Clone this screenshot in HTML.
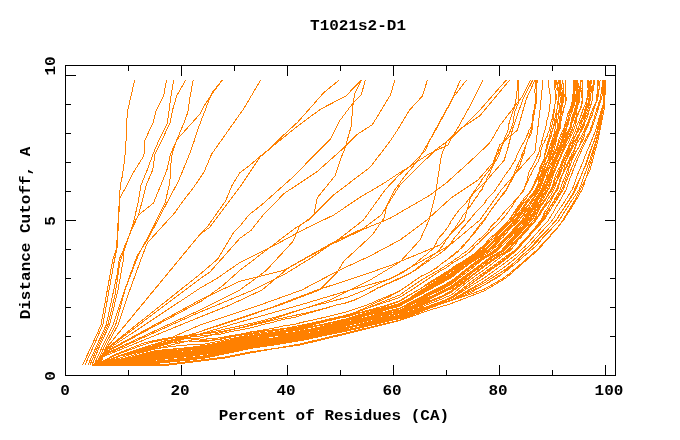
<!DOCTYPE html>
<html><head><meta charset="utf-8"><style>
html,body{margin:0;padding:0;background:#fff;width:680px;height:440px;overflow:hidden}
svg{display:block}
text{font-family:"Liberation Mono",monospace;font-weight:bold;fill:#000}
</style></head><body>
<svg width="680" height="440" viewBox="0 0 680 440">
<rect width="680" height="440" fill="#fff"/>
<g fill="none" stroke="#ff8000" stroke-width="1" shape-rendering="crispEdges">
<polyline points="134.7,80.0 131.8,92.7 128.0,109.0 126.6,122.3 126.2,138.0 125.5,148.0 124.7,159.0 121.8,179.0 120.3,185.0 119.2,203.0 117.8,226.6 117.1,247.3 114.1,262.0 102.8,325 94,345 85,365"/>
<polyline points="166.5,80.0 163.5,96.4 156.1,110.5 153.2,122.3 145.0,140.0 143.9,155.7 132.8,173.4 127.0,185.3 119.5,198.6 118.5,226.0 116.0,250.0 112.7,260.0 101.0,325 92,345 82.6,365"/>
<polyline points="173.6,80.0 170.2,101.6 168.7,113.4 167.2,123.7 159.0,140.0 153.5,152.8 147.6,169.0 141.0,185.3 138.0,203.0 135.6,213.3 133.3,223.6 126.0,244.3 119.3,259.0 117.0,275.0 106.2,325 97,345 88,365"/>
<polyline points="185.7,80.0 176.8,95.7 172.4,110.5 170.2,122.3 162.0,140.0 155.0,154.2 152.8,169.8 146.1,185.3 141.7,203.0 138.5,214.8 131.1,231.0 123.7,248.7 123.0,262.0 118.0,290.0 109.6,325 100,345 92,365"/>
<polyline points="193.2,80.0 190.0,97.2 187.9,112.0 184.2,122.3 176.8,140.0 170.5,154.2 166.8,170.5 153.5,203.0 138.5,215.0 133.0,225.0 126.0,245.0 120.0,262.0 115.0,295.0 107.9,325 98.5,345 90,365"/>
<polyline points="222.3,80.0 214.4,90.5 203.8,106.4 200.0,114.0 177.0,139.5 172.7,151.3 171.2,160.2 169.8,182.3 165.1,203.0 148.9,235.4 140.0,251.7 135.6,262.0 125.0,290.0 115.6,325 105,345 96,365"/>
<polyline points="222.3,80.0 211.7,93.2 198.5,127.6 194.5,140.0 190.6,151.4 178.6,180.8 166.8,203.0 147.4,240.0 137.0,256.0 134.8,262.0 124.0,292.0 113.0,325 103,345 94,365"/>
<polyline points="260.7,80.0 243.5,109.0 211.7,154.0 203.8,172.5 193.2,187.9 181.6,203.0 175.0,212.6 170.0,218.0 147.4,242.8 140.0,262.0 128.0,295.0 118.0,325 107,345 98,365"/>
<polyline points="339.3,80.0 323.8,92.6 315.0,102.6 297.4,122.4 284.1,134.6 269.8,148.9 259.9,157.1 248.8,173.7 240.0,186.9 209.7,227.3 200.0,234.31008403361346 107.0,347.0 100.0,365"/>
<polyline points="361.3,80.0 345.9,96.0 320.5,109.2 295.2,128.0 270.9,147.8 262.0,154.9 248.8,166.0 240.0,172.6 232.2,185.0 225.6,200.9 207.0,227.3 200.0,234.36666666666667 106.22222222222223,348.22222222222223 99.22222222222223,365"/>
<polyline points="361.3,80.0 354.7,93.8 352.5,108.1 351.4,125.7 344.8,148.9 342.6,153.8 334.9,175.9 317.2,197.9 313.9,215.0 299.6,226.0 292.9,241.5 266.5,270.2 240.0,290.0 200.0,310.0 200.0,310.0 101.55555555555556,355.55555555555554 94.55555555555556,365"/>
<polyline points="365.3,80.0 361.3,94.9 352.5,103.7 339.3,121.3 330.4,139.0 320.5,148.9 293.0,177.0 262.0,204.6 248.8,215.0 240.0,226.0 233.5,232.6 217.6,259.1 200.0,274.22648648648646 105.44444444444444,349.44444444444446 98.44444444444444,365"/>
<polyline points="394.9,80.0 390.5,94.9 372.4,124.6 356.9,134.6 342.6,148.9 317.2,171.5 284.1,193.5 263.2,215.0 251.0,230.4 240.0,238.2 209.7,272.3 200.0,278.77481108312344 104.66666666666667,350.6666666666667 97.66666666666667,365"/>
<polyline points="427.4,80.0 422.5,96.0 409.3,110.3 398.2,129.0 390.0,141.2 383.4,150.0 370.2,167.1 332.7,195.7 308.4,220.0 295.2,228.2 240.0,270.2 222.9,285.5 201.7,300.9 200.0,301.6786570743405 102.33333333333333,354.3333333333333 95.33333333333333,365"/>
<polyline points="460.4,80.0 451.2,101.5 435.7,130.2 426.9,145.0 418.1,160.4 404.9,175.9 393.8,191.3 387.0,205.0 384.0,218.0 372.4,234.9 343.7,261.3 337.1,272.4 319.4,290.0 280.0,305.0 230.0,322.0 200.0,331.6 150,347.8 120,356 104,362 96,365"/>
<polyline points="466.6,80.0 453.4,97.1 442.4,116.9 429.1,141.2 425.8,150.0 411.5,164.9 398.2,175.9 385.0,190.0 363.5,220.0 341.5,237.1 312.8,256.9 284.1,274.6 253.2,290.0 210.0,308.0 200.0,312.0 100.77777777777777,356.77777777777777 93.77777777777777,365"/>
<polyline points="483.2,80.0 468.8,108.1 457.8,127.9 451.2,139.0 447.9,145.0 429.1,153.8 415.9,162.6 398.2,173.7 385.0,182.5 359.1,197.9 333.8,215.0 306.2,228.2 277.5,243.7 240.0,262.4 217.6,278.0 200.0,288.2028985507246 103.88888888888889,351.8888888888889 96.88888888888889,365"/>
<polyline points="509.6,80.0 479.9,115.8 460.0,129.0 446.8,141.2 441.3,156.0 437.9,178.1 435.7,193.5 429.1,220.0 420.0,240.0 400.0,262.0 370.0,280.0 330.0,300.0 270.0,320.0 200.0,338.0 200.0,338.0 150,350.2 120,356 104,362 96,365"/>
<polyline points="506.3,80.0 477.7,112.5 455.6,134.6 435.7,150.0 420.0,165.0 400.0,185.0 381.2,215.0 363.5,228.2 332.7,242.6 284.1,270.2 240.0,281.2 200.0,300.0 200.0,300.0 103.11111111111111,353.1111111111111 96.11111111111111,365"/>
<polyline points="530.6,80.0 521.8,97.1 499.7,125.7 490.9,141.2 487.6,145.0 468.8,162.6 446.8,182.5 429.1,195.7 390.0,218.3 363.5,229.3 328.2,245.9 288.5,267.9 262.0,290.0 230.0,305.0 200.0,317.0 100.0,358.0 93.0,365"/>
<polyline points="535.0,80.0 526.2,99.3 517.4,130.2 499.7,145.0 493.1,162.6 477.7,180.3 451.2,197.9 426.9,220.0 400.0,240.0 370.0,256.0 339.3,270.2 301.8,290.0 260.0,305.0 200.0,325.0 200.0,325.0 150,347.0 120,356 104,362 96,365"/>
<polyline points="532.8,80.0 522.9,99.3 512.9,127.9 507.4,150.0 504.1,160.4 488.7,178.1 471.0,195.7 464.4,220.0 440.0,245.0 390.0,265.7 354.7,277.9 317.2,290.0 270.0,308.0 210.0,328.0 200.0,331.6666666666667 150,348.6 120,356 104,362 96,365"/>
<polyline points="543.0,80.0 540.0,110.0 535.0,151.6 517.4,171.5 501.9,189.1 479.9,220.0 450.0,245.0 390.0,279.0 350.3,290.0 300.0,305.0 240.0,322.0 200.0,334.0 150,349.4 120,356 104,362 96,365"/>
<polyline points="92.0,365.5 106.2,359.7 112.9,355.4 123.5,351.2 134.1,346.9 144.9,342.6 165.1,338.4 199.9,334.1 220.4,330.1 230.9,327.8 241.5,325.6 252.0,323.2 262.5,320.6 273.1,317.7 283.6,314.8 294.1,311.5 304.7,308.4 315.2,305.4 325.7,303.0 336.2,300.1 346.8,297.4 357.0,293.3 364.0,290.5 370.2,287.7 376.1,284.9 382.2,282.1 388.7,279.3 394.8,276.5 400.9,273.7 405.3,270.9 409.5,268.1 413.2,265.3 416.5,262.5 419.7,259.7 423.1,256.9 427.0,254.1 430.0,251.3 433.0,248.5 434.6,245.6 436.4,242.8 437.5,240.0 439.5,237.2 442.1,234.4 444.5,231.6 446.5,228.8 448.7,226.0 450.1,223.2 451.5,220.4 453.6,217.6 455.6,214.8 457.7,212.0 459.9,209.2 462.8,206.4 465.4,203.6 467.5,200.8 469.7,198.0 472.4,195.2 473.5,192.3 475.8,189.5 477.3,186.7 479.6,183.9 481.2,181.1 482.7,178.3 485.0,175.5 487.1,172.7 489.7,169.9 491.3,167.1 493.0,164.3 494.7,161.5 495.6,158.7 496.5,155.9 498.2,153.1 499.1,150.3 500.7,147.5 502.5,144.7 504.1,141.9 505.7,139.0 507.5,136.2 509.3,133.4 510.3,130.6 511.3,127.8 512.4,125.0 513.4,122.2 513.4,119.4 514.0,116.6 514.1,113.8 514.9,111.0 516.3,108.2 517.2,105.4 518.6,102.6 518.3,99.8 518.5,97.0 518.7,94.2 518.2,91.4 518.1,88.6 518.3,85.8 518.6,82.9 518.8,80.1"/>
<polyline points="92.0,365.5 108.0,360.1 119.8,355.4 132.5,351.2 145.3,346.9 159.2,342.6 178.3,338.4 204.4,335.5 220.4,334.2 230.9,331.6 241.5,329.7 252.0,327.6 262.5,324.7 273.1,322.2 283.6,319.2 294.1,317.5 304.7,314.3 315.2,311.2 325.7,308.3 336.2,305.0 346.8,302.6 357.3,298.7 367.8,293.7 378.4,287.9 385.2,284.9 391.8,282.1 398.2,279.3 404.4,276.5 409.6,273.7 413.7,270.9 417.1,268.1 420.6,265.3 424.4,262.5 428.1,259.7 431.1,256.9 434.3,254.1 438.0,251.3 440.2,248.5 442.8,245.6 444.5,242.8 446.1,240.0 448.2,237.2 450.1,234.4 451.8,231.6 454.4,228.8 456.1,226.0 458.1,223.2 459.9,220.4 461.8,217.6 463.3,214.8 465.9,212.0 467.6,209.2 470.0,206.4 471.9,203.6 473.9,200.8 475.7,198.0 478.0,195.2 479.4,192.3 482.0,189.5 482.9,186.7 484.4,183.9 486.3,181.1 487.0,178.3 488.4,175.5 490.1,172.7 490.9,169.9 492.5,167.1 493.8,164.3 495.3,161.5 497.4,158.7 498.6,155.9 499.7,153.1 500.7,150.3 501.3,147.5 502.2,144.7 503.3,141.9 504.5,139.0 505.3,136.2 506.9,133.4 507.9,130.6 508.3,127.8 508.6,125.0 509.4,122.2 510.1,119.4 511.3,116.6 512.1,113.8 513.0,111.0 514.3,108.2 514.7,105.4 515.5,102.6 515.9,99.8 516.4,97.0 516.3,94.2 517.0,91.4 517.3,88.6 517.1,85.8 517.5,82.9 517.4,80.1"/>
<polyline points="92.0,365.5 106.8,359.7 114.8,355.4 126.2,351.2 137.7,346.9 149.9,342.6 170.0,338.4 202.2,334.1 220.4,331.7 230.9,329.6 241.5,327.8 252.0,325.3 262.5,322.8 273.1,320.2 283.6,317.8 294.1,315.5 304.7,313.3 315.2,310.7 325.7,308.1 336.2,305.0 346.8,302.9 357.3,299.0 367.8,293.5 378.1,287.7 384.4,284.9 391.0,282.1 396.9,279.3 403.4,276.5 409.1,273.7 414.2,270.9 418.4,268.1 422.2,265.3 426.5,262.5 430.2,259.7 434.9,256.9 439.0,254.1 442.8,251.3 446.3,248.5 449.1,245.6 451.3,242.8 452.9,240.0 455.1,237.2 457.6,234.4 459.8,231.6 461.8,228.8 464.5,226.0 466.7,223.2 469.1,220.4 471.6,217.6 473.6,214.8 476.2,212.0 478.9,209.2 481.4,206.4 484.4,203.6 485.9,200.8 487.8,198.0 490.9,195.2 494.0,192.3 495.6,189.5 497.4,186.7 499.4,183.9 501.2,181.1 503.0,178.3 504.9,175.5 506.8,172.7 509.0,169.9 511.0,167.1 512.5,164.3 514.6,161.5 515.9,158.7 516.7,155.9 518.0,153.1 519.4,150.3 520.7,147.5 522.2,144.7 524.2,141.9 525.4,139.0 526.7,136.2 528.1,133.4 528.8,130.6 530.8,127.8 531.8,125.0 532.1,122.2 533.1,119.4 533.6,116.6 534.2,113.8 534.6,111.0 535.2,108.2 535.5,105.4 535.6,102.6 535.9,99.8 536.3,97.0 536.2,94.2 536.4,91.4 536.1,88.6 536.3,85.8 536.9,82.9 538.0,80.1"/>
<polyline points="92.0,365.5 108.0,360.7 122.0,355.4 135.9,351.2 150.1,346.9 165.8,342.6 185.5,338.4 204.4,340.6 220.4,339.3 230.9,337.0 241.5,335.1 252.0,333.2 262.5,331.4 273.1,329.9 283.6,328.6 294.1,326.6 304.7,324.6 315.2,322.5 325.7,319.8 336.2,317.5 346.8,315.2 357.3,311.6 367.8,306.5 378.4,301.5 388.9,296.8 399.4,291.4 410.0,283.8 420.5,276.7 426.7,273.7 431.7,270.9 436.0,268.1 439.7,265.3 443.2,262.5 447.2,259.7 450.6,256.9 453.8,254.1 457.5,251.3 460.9,248.5 464.1,245.6 465.6,242.8 468.1,240.0 470.5,237.2 473.1,234.4 475.8,231.6 477.9,228.8 480.0,226.0 482.2,223.2 484.6,220.4 486.0,217.6 487.9,214.8 489.5,212.0 491.6,209.2 493.8,206.4 495.8,203.6 498.2,200.8 500.2,198.0 502.9,195.2 504.8,192.3 506.9,189.5 508.1,186.7 509.5,183.9 511.2,181.1 512.6,178.3 513.9,175.5 515.6,172.7 517.5,169.9 518.7,167.1 520.3,164.3 521.0,161.5 522.3,158.7 522.8,155.9 524.2,153.1 524.5,150.3 525.5,147.5 526.1,144.7 527.2,141.9 528.0,139.0 530.0,136.2 531.1,133.4 531.8,130.6 532.6,127.8 532.8,125.0 532.7,122.2 533.4,119.4 533.2,116.6 533.8,113.8 534.3,111.0 535.3,108.2 535.6,105.4 536.5,102.6 536.9,99.8 536.8,97.0 536.7,94.2 536.6,91.4 536.6,88.6 536.7,85.8 535.9,82.9 536.2,80.1"/>
<polyline points="92.0,365.5 108.0,361.7 124.1,356.6 140.0,351.2 155.2,346.9 172.1,342.6 188.3,341.0 204.4,341.9 220.4,339.0 230.9,336.5 241.5,334.2 252.0,331.9 262.5,330.1 273.1,328.3 283.6,325.9 294.1,324.4 304.7,321.7 315.2,319.5 325.7,317.0 336.2,314.4 346.8,311.9 357.3,308.2 367.8,304.7 378.4,300.0 388.9,295.7 399.4,291.0 410.0,284.0 420.5,276.5 426.4,273.7 431.9,270.9 436.4,268.1 439.5,265.3 443.4,262.5 447.3,259.7 451.2,256.9 455.1,254.1 458.2,251.3 460.4,248.5 462.9,245.6 466.2,242.8 468.4,240.0 470.9,237.2 472.8,234.4 474.6,231.6 476.8,228.8 478.8,226.0 480.7,223.2 483.4,220.4 485.9,217.6 487.9,214.8 489.8,212.0 491.5,209.2 493.6,206.4 495.8,203.6 497.9,200.8 499.9,198.0 501.6,195.2 504.2,192.3 506.6,189.5 507.6,186.7 509.2,183.9 510.6,181.1 511.8,178.3 513.3,175.5 514.6,172.7 515.5,169.9 516.7,167.1 518.1,164.3 519.3,161.5 520.8,158.7 521.5,155.9 522.6,153.1 524.1,150.3 524.7,147.5 526.1,144.7 527.2,141.9 528.1,139.0 529.1,136.2 530.0,133.4 531.0,130.6 531.3,127.8 532.2,125.0 532.1,122.2 532.8,119.4 532.7,116.6 533.1,113.8 533.9,111.0 534.2,108.2 534.8,105.4 535.2,102.6 536.1,99.8 535.9,97.0 535.2,94.2 534.7,91.4 535.1,88.6 535.3,85.8 535.5,82.9 535.9,80.1"/>
<polyline points="92.0,365.5 108.0,360.5 121.3,355.4 134.9,351.2 148.7,346.9 164.3,342.6 183.9,338.4 204.4,339.2 220.4,337.8 230.9,335.7 241.5,334.0 252.0,331.6 262.5,330.9 273.1,330.0 283.6,328.6 294.1,326.5 304.7,324.6 315.2,322.3 325.7,319.9 336.2,317.7 346.8,315.6 357.3,312.1 367.8,308.0 378.4,303.6 388.9,299.3 399.4,295.2 410.0,287.7 420.5,280.7 431.0,274.4 437.3,270.9 442.1,268.1 446.2,265.3 450.8,262.5 454.4,259.7 458.9,256.9 462.0,254.1 466.6,251.3 469.6,248.5 472.8,245.6 475.4,242.8 478.3,240.0 482.0,237.2 484.4,234.4 487.6,231.6 489.6,228.8 491.4,226.0 494.5,223.2 497.4,220.4 499.7,217.6 502.1,214.8 504.3,212.0 506.8,209.2 509.5,206.4 512.3,203.6 514.7,200.8 517.4,198.0 520.0,195.2 522.6,192.3 524.6,189.5 525.1,186.7 526.5,183.9 527.9,181.1 528.7,178.3 530.5,175.5 531.9,172.7 532.9,169.9 534.6,167.1 536.4,164.3 538.2,161.5 539.0,158.7 540.3,155.9 541.0,153.1 540.9,150.3 541.8,147.5 542.7,144.7 544.5,141.9 545.6,139.0 547.2,136.2 548.0,133.4 549.3,130.6 549.6,127.8 550.7,125.0 550.9,122.2 552.1,119.4 552.7,116.6 553.1,113.8 553.3,111.0 554.3,108.2 554.6,105.4 555.3,102.6 555.7,99.8 555.7,97.0 555.5,94.2 555.2,91.4 554.7,88.6 554.1,85.8 554.1,82.9 554.0,80.1"/>
<polyline points="92.0,365.5 108.0,362.2 124.1,358.2 140.2,353.0 156.2,348.7 172.2,346.4 188.3,344.9 204.4,344.2 220.4,340.9 230.9,338.6 241.5,336.6 252.0,334.1 262.5,332.7 273.1,331.0 283.6,329.1 294.1,327.8 304.7,325.4 315.2,323.2 325.7,320.9 336.2,318.0 346.8,314.9 357.3,311.7 367.8,308.0 378.4,304.5 388.9,301.2 399.4,297.6 410.0,290.9 420.5,284.1 431.0,277.1 440.1,270.9 445.8,268.1 449.4,265.3 453.0,262.5 458.1,259.7 462.6,256.9 467.0,254.1 470.3,251.3 473.0,248.5 475.6,245.6 479.0,242.8 481.5,240.0 484.2,237.2 486.9,234.4 490.2,231.6 492.7,228.8 495.9,226.0 499.0,223.2 501.4,220.4 503.8,217.6 506.2,214.8 508.2,212.0 510.1,209.2 512.1,206.4 513.8,203.6 515.5,200.8 517.4,198.0 519.8,195.2 521.6,192.3 523.8,189.5 524.8,186.7 525.8,183.9 527.0,181.1 527.4,178.3 528.2,175.5 528.9,172.7 530.0,169.9 531.9,167.1 533.3,164.3 534.7,161.5 536.0,158.7 537.3,155.9 538.7,153.1 539.3,150.3 539.9,147.5 541.0,144.7 541.6,141.9 542.5,139.0 543.2,136.2 544.0,133.4 544.8,130.6 545.4,127.8 546.5,125.0 546.3,122.2 547.2,119.4 548.2,116.6 548.8,113.8 549.2,111.0 549.4,108.2 549.6,105.4 550.4,102.6 550.2,99.8 550.3,97.0 550.1,94.2 549.6,91.4 549.1,88.6 548.2,85.8 548.8,82.9 549.0,80.1"/>
<polyline points="92.0,365.5 108.0,362.5 124.1,359.3 140.2,354.6 156.2,350.6 172.2,349.1 188.3,347.6 204.4,345.5 220.4,342.3 230.9,340.0 241.5,337.7 252.0,335.5 262.5,334.3 273.1,332.8 283.6,330.7 294.1,329.9 304.7,327.7 315.2,325.8 325.7,323.8 336.2,321.9 346.8,319.6 357.3,317.1 367.8,314.3 378.4,310.6 388.9,307.2 399.4,303.8 410.0,297.8 420.5,290.6 431.0,284.1 441.6,277.2 452.1,269.2 457.3,265.3 461.8,262.5 466.3,259.7 470.9,256.9 474.9,254.1 478.3,251.3 481.1,248.5 484.1,245.6 487.7,242.8 489.9,240.0 493.0,237.2 496.0,234.4 499.0,231.6 501.7,228.8 504.7,226.0 507.5,223.2 510.4,220.4 512.3,217.6 514.9,214.8 517.0,212.0 519.0,209.2 521.0,206.4 523.1,203.6 526.3,200.8 528.8,198.0 531.3,195.2 533.5,192.3 535.4,189.5 536.6,186.7 537.9,183.9 539.2,181.1 540.0,178.3 541.5,175.5 542.2,172.7 543.3,169.9 544.6,167.1 545.5,164.3 547.4,161.5 548.5,158.7 549.0,155.9 549.8,153.1 551.0,150.3 551.8,147.5 552.4,144.7 553.2,141.9 553.8,139.0 554.7,136.2 556.3,133.4 557.4,130.6 558.3,127.8 558.6,125.0 559.2,122.2 559.7,119.4 560.2,116.6 560.2,113.8 560.7,111.0 561.6,108.2 562.2,105.4 562.7,102.6 562.3,99.8 561.4,97.0 560.7,94.2 560.3,91.4 559.7,88.6 559.8,85.8 559.8,82.9 559.5,80.1"/>
<polyline points="92.0,365.5 108.0,362.7 124.1,359.5 140.2,355.0 156.2,351.0 172.2,349.5 188.3,347.9 204.4,346.3 220.4,343.1 230.9,340.8 241.5,338.7 252.0,336.6 262.5,335.3 273.1,333.4 283.6,331.8 294.1,330.2 304.7,328.5 315.2,326.5 325.7,324.1 336.2,321.8 346.8,318.9 357.3,316.2 367.8,313.7 378.4,310.7 388.9,307.5 399.4,304.9 410.0,298.4 420.5,291.3 431.0,284.4 441.6,277.4 452.1,269.4 458.3,265.3 462.6,262.5 466.9,259.7 471.1,256.9 475.4,254.1 479.0,251.3 481.8,248.5 484.9,245.6 487.7,242.8 490.2,240.0 492.9,237.2 495.0,234.4 497.5,231.6 500.6,228.8 503.2,226.0 505.7,223.2 508.5,220.4 510.8,217.6 512.2,214.8 514.5,212.0 516.2,209.2 518.1,206.4 520.3,203.6 522.3,200.8 524.1,198.0 527.1,195.2 529.7,192.3 531.5,189.5 532.6,186.7 533.9,183.9 535.2,181.1 536.8,178.3 538.3,175.5 539.7,172.7 540.7,169.9 542.3,167.1 543.8,164.3 545.0,161.5 545.6,158.7 546.6,155.9 547.7,153.1 548.7,150.3 549.6,147.5 550.6,144.7 551.3,141.9 552.5,139.0 553.3,136.2 554.4,133.4 554.7,130.6 555.3,127.8 555.4,125.0 556.2,122.2 556.6,119.4 556.5,116.6 556.4,113.8 556.6,111.0 557.1,108.2 557.8,105.4 558.9,102.6 558.9,99.8 558.8,97.0 558.9,94.2 558.5,91.4 558.3,88.6 557.8,85.8 557.2,82.9 556.5,80.1"/>
<polyline points="92.0,365.5 108.0,362.7 124.1,359.4 140.2,355.0 156.2,351.1 172.2,349.4 188.3,348.1 204.4,346.1 220.4,342.6 230.9,340.4 241.5,338.0 252.0,336.5 262.5,334.7 273.1,332.7 283.6,331.5 294.1,330.2 304.7,328.5 315.2,326.2 325.7,323.6 336.2,321.2 346.8,318.8 357.3,316.5 367.8,313.6 378.4,310.5 388.9,307.7 399.4,305.0 410.0,297.9 420.5,291.5 431.0,284.6 441.6,278.4 452.1,270.7 459.4,265.3 463.7,262.5 467.4,259.7 471.8,256.9 476.9,254.1 480.3,251.3 483.9,248.5 486.6,245.6 489.0,242.8 492.2,240.0 495.2,237.2 498.1,234.4 500.6,231.6 503.9,228.8 507.0,226.0 509.4,223.2 512.3,220.4 514.5,217.6 516.7,214.8 519.5,212.0 521.5,209.2 523.4,206.4 525.1,203.6 527.5,200.8 529.1,198.0 531.5,195.2 533.6,192.3 535.4,189.5 536.9,186.7 538.2,183.9 539.6,181.1 540.4,178.3 541.9,175.5 543.1,172.7 544.4,169.9 545.4,167.1 546.1,164.3 548.0,161.5 548.8,158.7 550.3,155.9 551.0,153.1 551.8,150.3 552.6,147.5 553.0,144.7 554.0,141.9 555.1,139.0 556.5,136.2 557.0,133.4 557.6,130.6 558.0,127.8 558.3,125.0 559.3,122.2 559.3,119.4 559.9,116.6 560.3,113.8 560.9,111.0 560.8,108.2 561.1,105.4 561.5,102.6 561.9,99.8 561.0,97.0 561.2,94.2 560.9,91.4 561.0,88.6 560.5,85.8 560.4,82.9 559.9,80.1"/>
<polyline points="92.0,365.5 108.0,362.8 124.1,359.6 140.2,355.1 156.2,351.0 172.2,349.4 188.3,347.7 204.4,345.8 220.4,342.2 230.9,339.7 241.5,337.6 252.0,335.3 262.5,333.9 273.1,332.2 283.6,330.8 294.1,328.7 304.7,326.4 315.2,323.7 325.7,321.4 336.2,318.9 346.8,316.1 357.3,313.3 367.8,310.3 378.4,307.5 388.9,304.5 399.4,301.0 410.0,294.5 420.5,288.7 431.0,282.5 441.6,276.1 452.1,268.9 457.9,265.3 462.7,262.5 467.2,259.7 471.8,256.9 476.2,254.1 480.3,251.3 483.5,248.5 486.0,245.6 489.0,242.8 491.7,240.0 494.6,237.2 497.3,234.4 500.2,231.6 502.8,228.8 505.5,226.0 508.5,223.2 510.7,220.4 513.2,217.6 514.6,214.8 516.3,212.0 518.1,209.2 520.0,206.4 522.0,203.6 524.0,200.8 526.2,198.0 528.0,195.2 530.3,192.3 532.1,189.5 533.4,186.7 534.7,183.9 535.2,181.1 536.4,178.3 537.6,175.5 538.8,172.7 540.1,169.9 541.2,167.1 542.4,164.3 543.9,161.5 544.5,158.7 544.9,155.9 545.6,153.1 546.5,150.3 547.6,147.5 547.6,144.7 549.0,141.9 550.0,139.0 551.2,136.2 551.4,133.4 552.3,130.6 553.3,127.8 554.3,125.0 555.3,122.2 555.9,119.4 556.4,116.6 557.7,113.8 558.7,111.0 559.4,108.2 559.8,105.4 560.1,102.6 560.6,99.8 560.0,97.0 559.9,94.2 559.5,91.4 559.5,88.6 559.4,85.8 558.9,82.9 558.1,80.1"/>
<polyline points="92.0,365.5 108.0,362.9 124.1,359.9 140.2,355.7 156.2,352.0 172.2,350.5 188.3,349.0 204.4,346.4 220.4,342.6 230.9,340.2 241.5,337.9 252.0,335.7 262.5,333.7 273.1,332.4 283.6,330.4 294.1,328.7 304.7,327.0 315.2,324.3 325.7,321.4 336.2,318.8 346.8,316.8 357.3,313.7 367.8,311.3 378.4,308.8 388.9,305.1 399.4,301.6 410.0,294.9 420.5,288.5 431.0,281.4 441.6,275.0 452.1,268.1 455.8,265.3 461.1,262.5 465.2,259.7 469.8,256.9 473.9,254.1 476.9,251.3 479.9,248.5 483.4,245.6 486.0,242.8 488.3,240.0 491.0,237.2 494.6,234.4 497.3,231.6 500.4,228.8 503.0,226.0 505.8,223.2 508.8,220.4 511.0,217.6 512.8,214.8 514.9,212.0 517.1,209.2 519.4,206.4 521.7,203.6 523.8,200.8 526.3,198.0 528.0,195.2 529.9,192.3 532.4,189.5 533.5,186.7 534.7,183.9 536.6,181.1 537.7,178.3 538.9,175.5 539.2,172.7 540.0,169.9 541.3,167.1 542.0,164.3 543.4,161.5 544.2,158.7 544.5,155.9 544.9,153.1 545.8,150.3 546.4,147.5 546.9,144.7 547.8,141.9 548.9,139.0 549.6,136.2 550.2,133.4 550.8,130.6 551.2,127.8 552.1,125.0 552.3,122.2 553.6,119.4 553.9,116.6 553.8,113.8 554.6,111.0 554.7,108.2 554.8,105.4 555.3,102.6 556.0,99.8 556.0,97.0 556.0,94.2 555.9,91.4 556.1,88.6 555.8,85.8 555.7,82.9 554.9,80.1"/>
<polyline points="92.0,365.5 108.0,363.0 124.1,360.1 140.2,356.0 156.2,352.4 172.2,350.9 188.3,349.6 204.4,347.5 220.4,344.0 230.9,341.9 241.5,339.8 252.0,337.7 262.5,336.6 273.1,334.5 283.6,333.6 294.1,332.2 304.7,330.1 315.2,328.2 325.7,326.4 336.2,323.5 346.8,321.0 357.3,318.0 367.8,315.2 378.4,311.9 388.9,309.1 399.4,306.2 410.0,299.8 420.5,292.7 431.0,286.2 441.6,279.9 452.1,273.0 462.0,265.3 466.6,262.5 471.0,259.7 475.9,256.9 480.3,254.1 484.1,251.3 487.1,248.5 489.2,245.6 492.2,242.8 495.3,240.0 498.4,237.2 501.5,234.4 504.2,231.6 506.8,228.8 509.5,226.0 512.1,223.2 515.0,220.4 517.6,217.6 519.5,214.8 521.6,212.0 523.0,209.2 524.7,206.4 526.6,203.6 528.8,200.8 530.6,198.0 533.3,195.2 535.7,192.3 536.8,189.5 537.2,186.7 538.3,183.9 538.3,181.1 539.0,178.3 540.5,175.5 541.3,172.7 542.2,169.9 543.1,167.1 544.2,164.3 545.2,161.5 546.2,158.7 547.7,155.9 548.7,153.1 549.5,150.3 550.9,147.5 551.4,144.7 552.3,141.9 553.7,139.0 554.4,136.2 555.3,133.4 556.2,130.6 557.5,127.8 557.3,125.0 557.8,122.2 558.0,119.4 558.8,116.6 558.8,113.8 559.8,111.0 560.0,108.2 560.8,105.4 561.9,102.6 562.2,99.8 562.2,97.0 562.4,94.2 562.1,91.4 561.9,88.6 561.4,85.8 560.7,82.9 560.3,80.1"/>
<polyline points="92.0,365.5 108.0,363.1 124.1,360.3 140.2,356.2 156.2,352.8 172.2,351.1 188.3,349.7 204.4,347.6 220.4,344.4 230.9,342.6 241.5,340.4 252.0,338.6 262.5,336.9 273.1,335.4 283.6,333.8 294.1,332.2 304.7,330.3 315.2,328.0 325.7,325.7 336.2,323.4 346.8,320.8 357.3,318.5 367.8,314.9 378.4,311.5 388.9,308.3 399.4,305.7 410.0,300.3 420.5,293.7 431.0,287.1 441.6,281.1 452.1,274.1 462.6,265.4 466.9,262.5 471.5,259.7 475.6,256.9 480.0,254.1 484.2,251.3 486.6,248.5 489.1,245.6 491.9,242.8 494.4,240.0 497.4,237.2 500.6,234.4 503.5,231.6 506.2,228.8 509.1,226.0 511.7,223.2 514.0,220.4 516.6,217.6 518.4,214.8 521.0,212.0 522.5,209.2 524.4,206.4 526.2,203.6 528.7,200.8 530.8,198.0 532.6,195.2 534.6,192.3 536.6,189.5 538.0,186.7 539.5,183.9 541.5,181.1 542.7,178.3 543.7,175.5 544.9,172.7 545.7,169.9 547.4,167.1 548.1,164.3 549.2,161.5 549.9,158.7 550.7,155.9 551.9,153.1 552.3,150.3 553.0,147.5 554.1,144.7 554.9,141.9 555.8,139.0 556.6,136.2 557.4,133.4 558.3,130.6 559.4,127.8 559.9,125.0 560.8,122.2 561.4,119.4 561.9,116.6 562.7,113.8 563.4,111.0 563.8,108.2 564.8,105.4 565.7,102.6 566.0,99.8 565.0,97.0 564.0,94.2 563.8,91.4 563.6,88.6 563.0,85.8 563.0,82.9 562.6,80.1"/>
<polyline points="92.0,365.5 108.0,363.2 124.1,360.4 140.2,356.5 156.2,353.0 172.2,351.3 188.3,349.5 204.4,347.1 220.4,343.4 230.9,341.2 241.5,339.4 252.0,336.9 262.5,335.3 273.1,333.8 283.6,332.1 294.1,330.9 304.7,328.7 315.2,326.1 325.7,324.0 336.2,321.2 346.8,318.8 357.3,315.3 367.8,312.6 378.4,309.6 388.9,306.5 399.4,303.6 410.0,298.0 420.5,292.0 431.0,285.6 441.6,279.7 452.1,272.5 460.6,265.3 464.8,262.5 469.0,259.7 473.8,256.9 478.2,254.1 482.1,251.3 485.4,248.5 488.5,245.6 491.4,242.8 494.4,240.0 496.6,237.2 498.7,234.4 501.1,231.6 503.9,228.8 506.2,226.0 508.2,223.2 511.0,220.4 513.3,217.6 515.5,214.8 517.2,212.0 519.3,209.2 521.2,206.4 522.8,203.6 524.3,200.8 526.4,198.0 527.8,195.2 529.4,192.3 531.4,189.5 532.9,186.7 534.1,183.9 535.3,181.1 536.7,178.3 537.6,175.5 538.8,172.7 539.5,169.9 540.0,167.1 541.6,164.3 542.9,161.5 544.0,158.7 544.6,155.9 545.6,153.1 546.7,150.3 547.2,147.5 548.1,144.7 548.4,141.9 549.7,139.0 550.6,136.2 551.5,133.4 552.4,130.6 553.1,127.8 553.8,125.0 554.8,122.2 554.8,119.4 555.3,116.6 555.6,113.8 556.6,111.0 557.2,108.2 557.1,105.4 557.7,102.6 558.5,99.8 558.4,97.0 558.2,94.2 558.1,91.4 557.6,88.6 557.1,85.8 556.9,82.9 556.6,80.1"/>
<polyline points="92.0,365.5 108.0,363.2 124.1,360.4 140.2,356.5 156.2,353.2 172.2,351.8 188.3,350.3 204.4,348.3 220.4,345.3 230.9,343.0 241.5,340.6 252.0,338.5 262.5,337.0 273.1,335.7 283.6,334.0 294.1,332.5 304.7,330.7 315.2,328.1 325.7,325.8 336.2,323.4 346.8,320.6 357.3,317.9 367.8,314.5 378.4,311.8 388.9,309.0 399.4,305.0 410.0,299.5 420.5,293.8 431.0,288.2 441.6,281.9 452.1,274.9 462.6,266.2 467.9,262.5 471.8,259.7 476.4,256.9 481.0,254.1 485.4,251.3 487.6,248.5 489.9,245.6 492.6,242.8 495.3,240.0 498.0,237.2 501.3,234.4 504.2,231.6 507.5,228.8 510.1,226.0 512.2,223.2 515.4,220.4 517.7,217.6 520.2,214.8 522.4,212.0 524.8,209.2 527.1,206.4 529.3,203.6 531.3,200.8 533.5,198.0 535.5,195.2 538.0,192.3 539.7,189.5 540.7,186.7 542.0,183.9 543.1,181.1 543.7,178.3 544.8,175.5 545.7,172.7 546.7,169.9 546.8,167.1 548.3,164.3 549.7,161.5 550.2,158.7 551.9,155.9 553.2,153.1 553.9,150.3 554.4,147.5 555.4,144.7 556.0,141.9 556.6,139.0 557.2,136.2 558.2,133.4 559.0,130.6 560.3,127.8 560.7,125.0 560.8,122.2 561.3,119.4 561.9,116.6 562.3,113.8 562.9,111.0 564.0,108.2 564.9,105.4 565.7,102.6 566.2,99.8 566.0,97.0 565.8,94.2 565.7,91.4 565.4,88.6 565.8,85.8 565.4,82.9 565.7,80.1"/>
<polyline points="92.0,365.5 108.0,363.3 124.1,360.6 140.2,356.9 156.2,353.6 172.2,352.0 188.3,350.4 204.4,348.4 220.4,345.3 230.9,342.7 241.5,340.7 252.0,338.3 262.5,336.4 273.1,334.9 283.6,332.4 294.1,330.8 304.7,328.9 315.2,326.4 325.7,324.5 336.2,321.7 346.8,319.7 357.3,316.9 367.8,314.1 378.4,311.3 388.9,307.8 399.4,305.2 410.0,299.5 420.5,293.2 431.0,286.8 441.6,280.8 452.1,273.4 462.5,265.3 467.4,262.5 472.1,259.7 476.6,256.9 480.8,254.1 485.2,251.3 487.6,248.5 490.0,245.6 492.9,242.8 496.2,240.0 498.6,237.2 501.1,234.4 504.1,231.6 507.1,228.8 510.0,226.0 513.2,223.2 515.9,220.4 517.8,217.6 519.9,214.8 522.5,212.0 524.2,209.2 526.8,206.4 529.3,203.6 531.2,200.8 533.1,198.0 535.2,195.2 536.7,192.3 537.6,189.5 538.6,186.7 540.2,183.9 540.8,181.1 542.0,178.3 543.0,175.5 543.9,172.7 544.5,169.9 545.0,167.1 546.3,164.3 547.7,161.5 548.3,158.7 549.5,155.9 550.7,153.1 551.5,150.3 552.5,147.5 553.5,144.7 553.9,141.9 554.4,139.0 555.4,136.2 556.9,133.4 558.0,130.6 558.9,127.8 559.3,125.0 559.7,122.2 560.3,119.4 560.6,116.6 561.2,113.8 561.4,111.0 561.8,108.2 562.4,105.4 563.1,102.6 563.3,99.8 563.5,97.0 563.3,94.2 563.4,91.4 563.0,88.6 563.2,85.8 562.9,82.9 562.9,80.1"/>
<polyline points="92.0,365.5 108.0,363.5 124.1,361.0 140.2,357.7 156.2,354.7 172.2,353.3 188.3,352.2 204.4,350.1 220.4,347.2 230.9,345.1 241.5,343.3 252.0,341.6 262.5,340.3 273.1,338.5 283.6,337.2 294.1,335.7 304.7,334.2 315.2,331.8 325.7,329.9 336.2,327.9 346.8,325.6 357.3,322.8 367.8,319.9 378.4,316.6 388.9,313.8 399.4,310.8 410.0,305.0 420.5,299.0 431.0,293.2 441.6,287.0 452.1,280.7 462.6,272.0 473.2,263.8 478.6,259.7 483.6,256.9 488.8,254.1 493.4,251.3 496.5,248.5 499.8,245.6 502.3,242.8 504.7,240.0 507.6,237.2 510.8,234.4 513.1,231.6 515.9,228.8 518.9,226.0 521.8,223.2 524.5,220.4 526.6,217.6 529.2,214.8 531.7,212.0 533.9,209.2 536.0,206.4 538.0,203.6 539.5,200.8 540.9,198.0 542.5,195.2 544.8,192.3 546.0,189.5 546.6,186.7 547.6,183.9 549.0,181.1 549.5,178.3 549.9,175.5 550.7,172.7 552.0,169.9 553.4,167.1 555.0,164.3 555.0,161.5 556.1,158.7 556.5,155.9 557.2,153.1 558.3,150.3 559.2,147.5 560.5,144.7 561.3,141.9 562.6,139.0 563.8,136.2 564.9,133.4 565.7,130.6 566.7,127.8 568.0,125.0 568.0,122.2 568.6,119.4 568.9,116.6 569.4,113.8 570.4,111.0 571.2,108.2 571.3,105.4 572.0,102.6 572.7,99.8 572.3,97.0 573.1,94.2 573.3,91.4 573.2,88.6 573.0,85.8 573.6,82.9 573.7,80.1"/>
<polyline points="92.0,365.5 108.0,363.6 124.1,361.1 140.2,357.7 156.2,354.6 172.2,353.1 188.3,351.5 204.4,349.2 220.4,345.8 230.9,343.7 241.5,341.4 252.0,339.8 262.5,337.8 273.1,335.8 283.6,333.7 294.1,332.2 304.7,330.6 315.2,328.1 325.7,325.5 336.2,322.9 346.8,320.7 357.3,317.9 367.8,314.6 378.4,311.9 388.9,308.7 399.4,305.8 410.0,299.5 420.5,293.7 431.0,287.9 441.6,281.8 452.1,274.9 462.6,266.0 467.7,262.5 472.7,259.7 477.7,256.9 482.7,254.1 487.0,251.3 489.9,248.5 492.2,245.6 495.0,242.8 497.3,240.0 500.3,237.2 503.2,234.4 505.6,231.6 508.8,228.8 511.7,226.0 514.6,223.2 517.2,220.4 518.9,217.6 520.9,214.8 523.2,212.0 525.7,209.2 527.6,206.4 529.5,203.6 531.5,200.8 533.7,198.0 535.8,195.2 537.2,192.3 538.8,189.5 539.6,186.7 541.3,183.9 542.4,181.1 543.8,178.3 545.0,175.5 545.9,172.7 547.2,169.9 547.6,167.1 549.0,164.3 550.2,161.5 551.3,158.7 552.9,155.9 553.7,153.1 555.5,150.3 556.5,147.5 557.8,144.7 558.1,141.9 559.0,139.0 560.3,136.2 561.5,133.4 562.7,130.6 564.4,127.8 564.8,125.0 565.6,122.2 566.3,119.4 567.0,116.6 567.8,113.8 569.3,111.0 570.4,108.2 571.4,105.4 572.1,102.6 573.1,99.8 573.2,97.0 573.0,94.2 573.5,91.4 573.7,88.6 573.9,85.8 573.9,82.9 573.7,80.1"/>
<polyline points="92.0,365.5 108.0,363.6 124.1,361.1 140.2,357.8 156.2,354.8 172.2,353.0 188.3,351.5 204.4,349.3 220.4,345.8 230.9,343.5 241.5,341.3 252.0,339.2 262.5,337.3 273.1,335.7 283.6,334.0 294.1,332.1 304.7,330.4 315.2,328.2 325.7,325.5 336.2,323.2 346.8,321.0 357.3,318.0 367.8,315.2 378.4,312.8 388.9,308.9 399.4,306.1 410.0,300.3 420.5,294.7 431.0,288.8 441.6,283.1 452.1,276.3 462.6,268.3 471.0,262.5 476.0,259.7 480.7,256.9 485.6,254.1 490.5,251.3 493.2,248.5 497.4,245.6 500.7,242.8 503.7,240.0 506.4,237.2 509.7,234.4 512.7,231.6 515.8,228.8 518.2,226.0 520.6,223.2 523.2,220.4 525.7,217.6 527.2,214.8 528.8,212.0 531.1,209.2 532.8,206.4 534.1,203.6 536.2,200.8 538.0,198.0 539.7,195.2 542.2,192.3 543.7,189.5 544.8,186.7 546.1,183.9 547.4,181.1 549.0,178.3 550.1,175.5 551.2,172.7 551.8,169.9 553.0,167.1 553.8,164.3 555.6,161.5 556.8,158.7 558.7,155.9 559.7,153.1 561.2,150.3 562.0,147.5 563.3,144.7 564.2,141.9 565.5,139.0 566.3,136.2 567.4,133.4 569.6,130.6 571.0,127.8 571.3,125.0 572.0,122.2 572.8,119.4 573.4,116.6 574.2,113.8 575.0,111.0 576.1,108.2 576.7,105.4 577.3,102.6 578.1,99.8 577.8,97.0 577.5,94.2 577.4,91.4 577.2,88.6 577.1,85.8 577.3,82.9 576.9,80.1"/>
<polyline points="92.0,365.5 108.0,363.7 124.1,361.4 140.2,358.2 156.2,355.2 172.2,353.6 188.3,351.8 204.4,349.2 220.4,346.0 230.9,343.8 241.5,341.5 252.0,339.3 262.5,337.9 273.1,336.2 283.6,335.0 294.1,333.2 304.7,331.0 315.2,329.2 325.7,327.1 336.2,325.1 346.8,322.3 357.3,319.9 367.8,317.3 378.4,313.9 388.9,310.9 399.4,308.2 410.0,302.8 420.5,297.2 431.0,291.6 441.6,286.4 452.1,280.4 462.6,272.2 473.2,263.8 479.7,259.7 484.6,256.9 489.0,254.1 493.2,251.3 496.4,248.5 499.1,245.6 501.6,242.8 504.2,240.0 505.8,237.2 508.9,234.4 511.2,231.6 513.8,228.8 516.3,226.0 519.1,223.2 521.5,220.4 523.6,217.6 525.4,214.8 527.6,212.0 529.4,209.2 531.3,206.4 533.2,203.6 535.8,200.8 537.1,198.0 538.6,195.2 540.7,192.3 542.9,189.5 544.0,186.7 544.6,183.9 545.5,181.1 546.1,178.3 548.1,175.5 549.8,172.7 551.1,169.9 552.0,167.1 553.3,164.3 554.4,161.5 555.4,158.7 556.4,155.9 557.6,153.1 558.5,150.3 559.5,147.5 560.3,144.7 561.1,141.9 562.7,139.0 563.2,136.2 564.8,133.4 565.6,130.6 566.7,127.8 567.7,125.0 568.2,122.2 568.9,119.4 570.1,116.6 571.0,113.8 571.6,111.0 572.7,108.2 573.0,105.4 573.8,102.6 573.9,99.8 574.0,97.0 573.7,94.2 573.4,91.4 573.1,88.6 573.2,85.8 573.9,82.9 573.9,80.1"/>
<polyline points="92.0,365.5 108.0,363.8 124.1,361.4 140.2,358.3 156.2,355.5 172.2,354.0 188.3,352.3 204.4,350.1 220.4,346.5 230.9,344.8 241.5,342.0 252.0,340.0 262.5,337.9 273.1,335.8 283.6,334.0 294.1,332.2 304.7,330.4 315.2,328.3 325.7,326.2 336.2,323.4 346.8,320.7 357.3,318.0 367.8,314.7 378.4,311.0 388.9,307.4 399.4,304.3 410.0,298.4 420.5,293.4 431.0,287.5 441.6,282.1 452.1,275.4 462.6,267.7 469.7,262.5 474.3,259.7 479.2,256.9 483.4,254.1 488.1,251.3 491.2,248.5 494.0,245.6 496.8,242.8 499.5,240.0 502.7,237.2 504.8,234.4 507.1,231.6 510.4,228.8 513.0,226.0 515.6,223.2 518.7,220.4 521.0,217.6 523.7,214.8 525.8,212.0 528.2,209.2 529.6,206.4 530.6,203.6 532.4,200.8 534.2,198.0 535.7,195.2 536.9,192.3 539.0,189.5 540.1,186.7 541.2,183.9 542.4,181.1 543.3,178.3 545.0,175.5 546.1,172.7 547.4,169.9 549.1,167.1 550.5,164.3 552.3,161.5 552.9,158.7 553.6,155.9 555.2,153.1 556.5,150.3 557.5,147.5 558.4,144.7 559.3,141.9 560.6,139.0 562.1,136.2 562.9,133.4 564.0,130.6 564.7,127.8 565.6,125.0 566.8,122.2 568.0,119.4 568.4,116.6 569.4,113.8 571.1,111.0 572.7,108.2 573.4,105.4 573.9,102.6 574.8,99.8 574.8,97.0 574.3,94.2 575.0,91.4 575.1,88.6 575.0,85.8 575.5,82.9 575.1,80.1"/>
<polyline points="92.0,365.5 108.0,363.9 124.1,361.6 140.2,358.7 156.2,355.9 172.2,354.1 188.3,352.7 204.4,350.9 220.4,347.4 230.9,345.2 241.5,342.7 252.0,340.4 262.5,338.8 273.1,338.1 283.6,336.0 294.1,334.8 304.7,332.9 315.2,329.7 325.7,327.6 336.2,325.0 346.8,322.5 357.3,320.3 367.8,317.5 378.4,314.8 388.9,311.8 399.4,308.3 410.0,302.9 420.5,297.6 431.0,292.4 441.6,287.3 452.1,281.9 462.6,273.9 473.2,265.6 481.6,259.7 486.1,256.9 490.8,254.1 495.0,251.3 497.9,248.5 500.3,245.6 502.8,242.8 505.6,240.0 508.6,237.2 511.6,234.4 515.0,231.6 517.8,228.8 521.0,226.0 523.2,223.2 525.7,220.4 527.3,217.6 529.0,214.8 530.3,212.0 532.1,209.2 534.1,206.4 535.8,203.6 537.6,200.8 539.5,198.0 541.4,195.2 542.6,192.3 544.3,189.5 545.3,186.7 547.2,183.9 548.4,181.1 549.6,178.3 551.3,175.5 551.7,172.7 552.8,169.9 554.0,167.1 554.9,164.3 556.0,161.5 557.3,158.7 558.0,155.9 559.4,153.1 560.6,150.3 561.9,147.5 563.6,144.7 564.7,141.9 565.8,139.0 567.2,136.2 568.5,133.4 569.8,130.6 570.3,127.8 571.0,125.0 571.7,122.2 572.1,119.4 573.7,116.6 574.7,113.8 576.0,111.0 576.6,108.2 577.4,105.4 577.8,102.6 578.1,99.8 578.6,97.0 578.5,94.2 578.0,91.4 578.0,88.6 578.1,85.8 578.0,82.9 577.7,80.1"/>
<polyline points="92.0,365.5 108.0,363.9 124.1,361.7 140.2,358.7 156.2,355.9 172.2,354.1 188.3,352.5 204.4,350.5 220.4,346.8 230.9,344.4 241.5,342.7 252.0,340.3 262.5,338.4 273.1,336.1 283.6,334.5 294.1,333.1 304.7,331.1 315.2,328.4 325.7,326.0 336.2,323.3 346.8,320.6 357.3,317.9 367.8,314.5 378.4,311.5 388.9,308.9 399.4,305.6 410.0,299.6 420.5,294.2 431.0,288.7 441.6,283.1 452.1,277.1 462.6,268.8 471.1,262.5 475.9,259.7 480.8,256.9 485.8,254.1 490.5,251.3 493.4,248.5 495.4,245.6 497.8,242.8 500.1,240.0 503.2,237.2 505.4,234.4 507.7,231.6 510.4,228.8 513.3,226.0 516.5,223.2 519.0,220.4 521.0,217.6 523.1,214.8 524.6,212.0 527.0,209.2 529.3,206.4 531.2,203.6 532.9,200.8 535.8,198.0 537.9,195.2 539.8,192.3 541.6,189.5 543.0,186.7 543.9,183.9 545.5,181.1 546.8,178.3 548.5,175.5 549.9,172.7 550.5,169.9 552.4,167.1 552.9,164.3 553.5,161.5 554.6,158.7 555.8,155.9 557.0,153.1 558.8,150.3 559.8,147.5 561.1,144.7 561.5,141.9 562.8,139.0 563.5,136.2 565.1,133.4 566.2,130.6 566.8,127.8 567.8,125.0 568.9,122.2 569.1,119.4 570.3,116.6 571.1,113.8 572.2,111.0 572.9,108.2 574.4,105.4 574.8,102.6 575.5,99.8 575.4,97.0 575.1,94.2 574.5,91.4 574.8,88.6 574.9,85.8 575.0,82.9 574.7,80.1"/>
<polyline points="92.0,365.5 108.0,364.1 124.1,362.1 140.2,359.4 156.2,356.8 172.2,355.7 188.3,354.4 204.4,352.4 220.4,349.0 230.9,347.3 241.5,345.1 252.0,343.1 262.5,341.2 273.1,339.5 283.6,338.3 294.1,336.5 304.7,334.6 315.2,332.0 325.7,329.1 336.2,326.1 346.8,323.8 357.3,321.5 367.8,318.3 378.4,315.2 388.9,312.0 399.4,308.9 410.0,303.9 420.5,297.8 431.0,292.5 441.6,286.8 452.1,281.1 462.6,272.4 473.2,264.9 480.0,259.7 484.9,256.9 490.0,254.1 494.3,251.3 497.6,248.5 500.2,245.6 502.3,242.8 505.3,240.0 508.2,237.2 510.4,234.4 512.9,231.6 515.9,228.8 519.0,226.0 521.7,223.2 524.1,220.4 526.2,217.6 527.8,214.8 529.3,212.0 531.5,209.2 533.5,206.4 535.5,203.6 537.3,200.8 538.5,198.0 540.8,195.2 542.9,192.3 545.0,189.5 545.7,186.7 546.7,183.9 548.0,181.1 549.5,178.3 550.3,175.5 551.6,172.7 552.6,169.9 553.2,167.1 554.2,164.3 555.2,161.5 556.4,158.7 557.6,155.9 558.4,153.1 560.1,150.3 561.3,147.5 562.9,144.7 563.3,141.9 564.9,139.0 565.7,136.2 567.4,133.4 568.6,130.6 570.2,127.8 570.0,125.0 570.9,122.2 571.5,119.4 572.1,116.6 573.2,113.8 574.3,111.0 575.3,108.2 576.1,105.4 576.4,102.6 577.0,99.8 576.4,97.0 576.5,94.2 576.5,91.4 576.3,88.6 576.8,85.8 576.7,82.9 576.5,80.1"/>
<polyline points="92.0,365.5 108.0,364.1 124.1,362.2 140.2,359.5 156.2,356.8 172.2,355.1 188.3,353.4 204.4,351.2 220.4,348.0 230.9,346.0 241.5,344.3 252.0,342.3 262.5,340.9 273.1,339.3 283.6,337.7 294.1,336.7 304.7,334.8 315.2,332.1 325.7,330.2 336.2,327.8 346.8,325.8 357.3,322.5 367.8,319.5 378.4,316.9 388.9,313.5 399.4,310.7 410.0,305.5 420.5,299.6 431.0,294.0 441.6,288.5 452.1,282.7 462.6,273.7 473.2,265.1 480.6,259.7 485.4,256.9 489.7,254.1 495.0,251.3 497.4,248.5 499.8,245.6 502.4,242.8 504.7,240.0 507.4,237.2 509.3,234.4 512.3,231.6 515.2,228.8 516.8,226.0 520.2,223.2 522.9,220.4 525.5,217.6 526.6,214.8 528.1,212.0 529.7,209.2 531.6,206.4 533.0,203.6 534.7,200.8 536.6,198.0 538.1,195.2 539.7,192.3 541.5,189.5 542.8,186.7 543.3,183.9 545.1,181.1 546.6,178.3 547.0,175.5 547.8,172.7 548.5,169.9 550.2,167.1 551.8,164.3 553.0,161.5 554.1,158.7 555.7,155.9 556.8,153.1 557.7,150.3 559.0,147.5 560.4,144.7 561.0,141.9 562.2,139.0 563.1,136.2 564.0,133.4 565.1,130.6 566.3,127.8 566.7,125.0 567.3,122.2 567.9,119.4 568.8,116.6 569.5,113.8 570.5,111.0 571.2,108.2 571.9,105.4 572.7,102.6 573.9,99.8 573.9,97.0 574.0,94.2 573.6,91.4 573.9,88.6 573.7,85.8 573.9,82.9 574.2,80.1"/>
<polyline points="92.0,365.5 108.0,364.2 124.1,362.1 140.2,359.4 156.2,356.9 172.2,355.2 188.3,353.6 204.4,351.6 220.4,348.1 230.9,345.8 241.5,343.1 252.0,341.3 262.5,339.8 273.1,338.1 283.6,336.8 294.1,335.1 304.7,333.1 315.2,330.7 325.7,328.4 336.2,325.6 346.8,323.1 357.3,320.8 367.8,318.5 378.4,315.9 388.9,313.2 399.4,310.6 410.0,305.7 420.5,300.1 431.0,294.6 441.6,289.6 452.1,283.6 462.6,275.4 473.2,267.4 482.3,259.7 487.0,256.9 492.4,254.1 496.6,251.3 499.7,248.5 502.3,245.6 505.3,242.8 508.0,240.0 510.3,237.2 512.9,234.4 515.8,231.6 519.0,228.8 521.2,226.0 523.7,223.2 527.4,220.4 529.6,217.6 531.6,214.8 533.5,212.0 535.1,209.2 537.1,206.4 538.8,203.6 540.8,200.8 542.2,198.0 543.9,195.2 545.7,192.3 547.2,189.5 548.2,186.7 550.0,183.9 551.3,181.1 552.2,178.3 553.1,175.5 554.2,172.7 555.3,169.9 556.4,167.1 557.8,164.3 558.7,161.5 560.1,158.7 560.3,155.9 561.5,153.1 562.8,150.3 563.6,147.5 564.9,144.7 565.6,141.9 566.9,139.0 567.6,136.2 567.8,133.4 569.4,130.6 570.4,127.8 570.9,125.0 572.4,122.2 573.5,119.4 574.3,116.6 575.3,113.8 576.3,111.0 576.7,108.2 577.6,105.4 579.0,102.6 579.7,99.8 579.6,97.0 579.2,94.2 580.1,91.4 580.3,88.6 580.0,85.8 580.6,82.9 580.5,80.1"/>
<polyline points="92.0,365.5 108.0,364.3 124.1,362.4 140.2,359.9 156.2,357.7 172.2,356.0 188.3,354.2 204.4,352.1 220.4,348.8 230.9,346.5 241.5,344.1 252.0,341.3 262.5,340.0 273.1,337.9 283.6,335.9 294.1,334.1 304.7,331.9 315.2,329.5 325.7,326.7 336.2,324.3 346.8,322.0 357.3,319.6 367.8,316.8 378.4,313.9 388.9,311.3 399.4,308.7 410.0,303.7 420.5,298.5 431.0,293.5 441.6,288.1 452.1,282.2 462.6,273.5 473.2,264.8 480.9,259.7 485.9,256.9 490.3,254.1 494.8,251.3 498.1,248.5 500.8,245.6 503.3,242.8 505.9,240.0 508.5,237.2 511.3,234.4 513.4,231.6 516.6,228.8 519.1,226.0 522.1,223.2 524.4,220.4 526.1,217.6 527.7,214.8 529.4,212.0 531.5,209.2 533.3,206.4 534.9,203.6 537.4,200.8 539.2,198.0 541.1,195.2 543.0,192.3 544.3,189.5 545.4,186.7 546.3,183.9 547.0,181.1 548.1,178.3 549.2,175.5 551.3,172.7 552.2,169.9 553.1,167.1 554.4,164.3 555.2,161.5 556.2,158.7 557.3,155.9 558.4,153.1 559.4,150.3 560.4,147.5 561.3,144.7 562.2,141.9 563.2,139.0 564.7,136.2 566.1,133.4 568.2,130.6 569.8,127.8 570.5,125.0 571.3,122.2 572.1,119.4 572.8,116.6 573.9,113.8 574.6,111.0 575.0,108.2 576.0,105.4 577.0,102.6 577.1,99.8 577.1,97.0 576.9,94.2 577.4,91.4 577.8,88.6 577.9,85.8 577.9,82.9 577.9,80.1"/>
<polyline points="92.0,365.5 108.0,364.4 124.1,362.6 140.2,360.3 156.2,358.1 172.2,356.8 188.3,355.3 204.4,353.3 220.4,350.2 230.9,348.0 241.5,345.4 252.0,343.7 262.5,342.3 273.1,340.3 283.6,338.6 294.1,337.4 304.7,335.6 315.2,333.4 325.7,331.1 336.2,328.2 346.8,325.2 357.3,323.2 367.8,320.1 378.4,317.9 388.9,315.1 399.4,312.4 410.0,307.5 420.5,302.0 431.0,296.6 441.6,291.4 452.1,285.7 462.6,277.7 473.2,269.9 483.7,262.2 490.5,256.9 495.7,254.1 500.5,251.3 503.2,248.5 505.4,245.6 507.7,242.8 510.6,240.0 513.2,237.2 515.2,234.4 517.7,231.6 520.5,228.8 523.2,226.0 526.0,223.2 528.8,220.4 531.1,217.6 533.8,214.8 535.3,212.0 537.5,209.2 539.3,206.4 541.8,203.6 543.7,200.8 546.0,198.0 547.9,195.2 549.3,192.3 551.2,189.5 552.2,186.7 553.9,183.9 554.4,181.1 556.0,178.3 557.7,175.5 559.4,172.7 560.7,169.9 561.6,167.1 562.7,164.3 563.6,161.5 564.9,158.7 566.1,155.9 567.6,153.1 568.6,150.3 569.7,147.5 570.4,144.7 572.0,141.9 573.6,139.0 574.8,136.2 576.2,133.4 577.4,130.6 578.2,127.8 579.7,125.0 580.9,122.2 581.6,119.4 583.0,116.6 584.0,113.8 585.1,111.0 586.1,108.2 587.4,105.4 588.3,102.6 588.6,99.8 589.2,97.0 589.9,94.2 589.7,91.4 590.0,88.6 589.9,85.8 589.5,82.9 590.2,80.1"/>
<polyline points="92.0,365.5 108.0,364.5 124.1,362.9 140.2,360.8 156.2,358.8 172.2,357.3 188.3,355.7 204.4,353.9 220.4,350.9 230.9,348.8 241.5,346.6 252.0,344.4 262.5,343.1 273.1,341.4 283.6,339.9 294.1,338.8 304.7,337.6 315.2,335.4 325.7,333.2 336.2,330.8 346.8,328.8 357.3,325.4 367.8,322.8 378.4,319.9 388.9,317.0 399.4,313.0 410.0,308.4 420.5,303.2 431.0,298.1 441.6,292.8 452.1,286.8 462.6,278.2 473.2,270.0 483.7,262.2 491.2,256.9 496.5,254.1 501.7,251.3 505.5,248.5 507.3,245.6 510.1,242.8 512.6,240.0 514.4,237.2 517.0,234.4 519.8,231.6 522.7,228.8 525.2,226.0 528.0,223.2 530.2,220.4 531.7,217.6 533.5,214.8 535.0,212.0 536.9,209.2 538.5,206.4 540.3,203.6 541.7,200.8 543.8,198.0 545.4,195.2 546.8,192.3 548.5,189.5 549.8,186.7 550.4,183.9 551.7,181.1 552.2,178.3 553.0,175.5 554.1,172.7 555.4,169.9 556.0,167.1 557.6,164.3 558.8,161.5 560.1,158.7 561.3,155.9 562.0,153.1 563.7,150.3 565.1,147.5 566.7,144.7 568.6,141.9 569.6,139.0 570.7,136.2 572.2,133.4 573.6,130.6 574.5,127.8 575.3,125.0 576.1,122.2 576.6,119.4 577.0,116.6 577.8,113.8 579.0,111.0 581.0,108.2 581.8,105.4 582.2,102.6 583.0,99.8 582.9,97.0 582.4,94.2 581.6,91.4 582.3,88.6 582.5,85.8 582.2,82.9 581.8,80.1"/>
<polyline points="92.0,365.5 108.0,364.6 124.1,363.0 140.2,360.8 156.2,358.6 172.2,357.1 188.3,355.5 204.4,353.6 220.4,350.2 230.9,347.6 241.5,344.9 252.0,342.6 262.5,340.8 273.1,339.5 283.6,338.3 294.1,336.4 304.7,334.4 315.2,332.4 325.7,330.2 336.2,327.6 346.8,325.4 357.3,323.3 367.8,320.8 378.4,318.4 388.9,316.3 399.4,313.4 410.0,309.2 420.5,304.5 431.0,298.6 441.6,293.2 452.1,287.9 462.6,279.5 473.2,270.7 483.7,262.2 491.1,256.9 496.5,254.1 501.6,251.3 504.6,248.5 506.5,245.6 509.2,242.8 512.2,240.0 514.6,237.2 517.1,234.4 519.3,231.6 521.6,228.8 524.3,226.0 526.6,223.2 528.6,220.4 530.8,217.6 532.2,214.8 534.0,212.0 535.4,209.2 537.2,206.4 538.8,203.6 540.3,200.8 541.7,198.0 543.3,195.2 545.1,192.3 547.2,189.5 548.1,186.7 549.1,183.9 549.8,181.1 551.0,178.3 552.4,175.5 553.9,172.7 555.3,169.9 555.8,167.1 557.7,164.3 558.9,161.5 559.7,158.7 561.1,155.9 562.3,153.1 563.1,150.3 564.4,147.5 565.4,144.7 566.7,141.9 567.9,139.0 569.2,136.2 570.7,133.4 572.1,130.6 572.9,127.8 573.4,125.0 575.0,122.2 576.0,119.4 577.4,116.6 578.6,113.8 579.2,111.0 580.4,108.2 581.1,105.4 581.7,102.6 582.2,99.8 581.9,97.0 581.9,94.2 582.4,91.4 581.9,88.6 582.3,85.8 582.1,82.9 582.2,80.1"/>
<polyline points="92.0,365.5 108.0,364.6 124.1,362.9 140.2,360.7 156.2,358.5 172.2,356.8 188.3,355.0 204.4,352.6 220.4,349.3 230.9,346.3 241.5,343.5 252.0,341.4 262.5,339.3 273.1,338.1 283.6,336.5 294.1,334.8 304.7,332.6 315.2,330.0 325.7,327.5 336.2,325.9 346.8,324.0 357.3,321.5 367.8,318.9 378.4,316.0 388.9,313.7 399.4,311.4 410.0,306.7 420.5,302.3 431.0,297.1 441.6,293.0 452.1,287.5 462.6,279.5 473.2,270.4 483.7,262.7 492.8,256.9 498.0,254.1 502.7,251.3 505.9,248.5 508.5,245.6 511.2,242.8 513.7,240.0 516.6,237.2 519.1,234.4 521.7,231.6 524.0,228.8 526.3,226.0 528.1,223.2 530.4,220.4 533.3,217.6 535.2,214.8 537.1,212.0 538.9,209.2 540.4,206.4 542.9,203.6 544.1,200.8 546.1,198.0 547.9,195.2 549.8,192.3 551.0,189.5 552.1,186.7 553.2,183.9 554.6,181.1 555.8,178.3 557.3,175.5 558.5,172.7 559.6,169.9 560.2,167.1 561.0,164.3 562.2,161.5 563.8,158.7 565.7,155.9 566.4,153.1 567.7,150.3 569.4,147.5 570.6,144.7 572.1,141.9 573.3,139.0 574.7,136.2 576.4,133.4 577.8,130.6 578.4,127.8 579.2,125.0 580.1,122.2 581.3,119.4 582.5,116.6 583.8,113.8 584.6,111.0 585.1,108.2 586.1,105.4 586.0,102.6 586.6,99.8 587.2,97.0 587.2,94.2 587.9,91.4 588.1,88.6 587.6,85.8 587.6,82.9 587.9,80.1"/>
<polyline points="92.0,365.5 108.0,364.7 124.1,363.3 140.2,361.4 156.2,359.5 172.2,358.1 188.3,356.4 204.4,354.3 220.4,350.6 230.9,348.2 241.5,346.4 252.0,344.5 262.5,342.6 273.1,340.8 283.6,338.8 294.1,336.6 304.7,334.7 315.2,332.5 325.7,330.0 336.2,327.0 346.8,324.6 357.3,321.3 367.8,318.1 378.4,315.5 388.9,313.0 399.4,310.2 410.0,305.1 420.5,300.8 431.0,296.3 441.6,291.6 452.1,286.5 462.6,278.8 473.2,271.0 483.7,262.9 491.8,256.9 496.6,254.1 501.2,251.3 503.0,248.5 505.2,245.6 508.4,242.8 511.6,240.0 513.5,237.2 516.1,234.4 518.4,231.6 520.8,228.8 522.9,226.0 524.5,223.2 526.9,220.4 528.3,217.6 529.8,214.8 531.8,212.0 533.2,209.2 534.5,206.4 536.7,203.6 537.6,200.8 539.1,198.0 540.8,195.2 542.1,192.3 544.7,189.5 545.9,186.7 547.5,183.9 548.6,181.1 550.4,178.3 551.8,175.5 552.9,172.7 554.3,169.9 555.5,167.1 556.6,164.3 557.4,161.5 559.2,158.7 560.6,155.9 561.9,153.1 563.1,150.3 564.4,147.5 565.1,144.7 566.0,141.9 567.6,139.0 568.8,136.2 570.0,133.4 571.2,130.6 572.7,127.8 573.8,125.0 574.4,122.2 575.3,119.4 576.3,116.6 576.2,113.8 576.5,111.0 577.2,108.2 577.9,105.4 578.6,102.6 578.5,99.8 578.5,97.0 578.7,94.2 579.5,91.4 579.5,88.6 580.0,85.8 580.2,82.9 580.0,80.1"/>
<polyline points="92.0,365.5 108.0,364.8 124.1,363.3 140.2,361.5 156.2,359.6 172.2,357.9 188.3,356.3 204.4,354.5 220.4,351.3 230.9,349.0 241.5,346.3 252.0,344.4 262.5,342.9 273.1,341.3 283.6,339.3 294.1,337.8 304.7,335.9 315.2,333.5 325.7,330.9 336.2,329.1 346.8,327.1 357.3,324.8 367.8,322.1 378.4,319.3 388.9,316.2 399.4,313.7 410.0,309.5 420.5,305.1 431.0,300.3 441.6,296.1 452.1,291.2 462.6,283.8 473.2,275.0 483.7,267.2 494.2,258.9 501.3,254.1 506.0,251.3 509.0,248.5 511.9,245.6 514.7,242.8 517.2,240.0 519.9,237.2 522.8,234.4 525.4,231.6 528.2,228.8 530.9,226.0 533.2,223.2 535.6,220.4 537.1,217.6 538.8,214.8 540.0,212.0 541.9,209.2 543.7,206.4 545.6,203.6 547.0,200.8 548.6,198.0 550.8,195.2 552.5,192.3 553.9,189.5 555.0,186.7 556.1,183.9 556.7,181.1 557.6,178.3 558.5,175.5 559.3,172.7 560.9,169.9 561.6,167.1 562.1,164.3 563.6,161.5 564.9,158.7 566.5,155.9 568.4,153.1 569.8,150.3 571.2,147.5 572.1,144.7 573.1,141.9 573.8,139.0 575.3,136.2 576.7,133.4 578.6,130.6 580.1,127.8 581.0,125.0 581.9,122.2 583.4,119.4 584.3,116.6 585.1,113.8 586.0,111.0 586.9,108.2 588.4,105.4 588.7,102.6 589.7,99.8 590.1,97.0 589.5,94.2 590.1,91.4 591.0,88.6 590.9,85.8 591.1,82.9 591.2,80.1"/>
<polyline points="92.0,365.5 108.0,364.8 124.1,363.3 140.2,361.5 156.2,359.8 172.2,358.2 188.3,356.6 204.4,354.4 220.4,350.9 230.9,349.0 241.5,347.4 252.0,345.6 262.5,343.5 273.1,341.5 283.6,340.0 294.1,338.2 304.7,335.8 315.2,333.7 325.7,331.6 336.2,329.6 346.8,327.7 357.3,325.8 367.8,323.3 378.4,320.6 388.9,317.7 399.4,314.9 410.0,310.3 420.5,306.0 431.0,301.5 441.6,297.2 452.1,291.8 462.6,283.0 473.2,274.9 483.7,267.2 494.2,259.5 502.3,254.1 507.2,251.3 510.1,248.5 512.2,245.6 514.6,242.8 517.6,240.0 520.0,237.2 522.9,234.4 525.4,231.6 527.9,228.8 530.7,226.0 533.1,223.2 534.9,220.4 536.8,217.6 539.1,214.8 540.8,212.0 543.0,209.2 544.9,206.4 547.0,203.6 549.4,200.8 551.3,198.0 553.4,195.2 555.7,192.3 557.9,189.5 558.5,186.7 559.5,183.9 559.8,181.1 560.7,178.3 562.0,175.5 563.2,172.7 564.9,169.9 565.9,167.1 567.1,164.3 568.6,161.5 569.4,158.7 571.0,155.9 572.0,153.1 574.0,150.3 574.7,147.5 575.9,144.7 577.1,141.9 577.8,139.0 578.8,136.2 579.8,133.4 580.5,130.6 581.4,127.8 582.6,125.0 583.9,122.2 584.7,119.4 585.2,116.6 586.2,113.8 587.4,111.0 588.4,108.2 589.3,105.4 589.7,102.6 590.2,99.8 590.6,97.0 590.9,94.2 591.3,91.4 591.3,88.6 591.0,85.8 590.8,82.9 590.5,80.1"/>
<polyline points="92.0,365.5 108.0,364.9 124.1,363.5 140.2,361.8 156.2,360.0 172.2,358.2 188.3,356.5 204.4,354.5 220.4,350.9 230.9,348.7 241.5,346.6 252.0,344.3 262.5,341.9 273.1,340.2 283.6,338.3 294.1,336.5 304.7,334.4 315.2,332.0 325.7,329.7 336.2,327.1 346.8,324.9 357.3,322.1 367.8,319.0 378.4,316.7 388.9,313.9 399.4,310.8 410.0,306.7 420.5,302.4 431.0,297.7 441.6,293.3 452.1,288.2 462.6,280.4 473.2,272.1 483.7,264.3 493.2,256.9 498.3,254.1 503.5,251.3 506.8,248.5 509.2,245.6 511.9,242.8 513.8,240.0 515.6,237.2 518.2,234.4 520.9,231.6 523.7,228.8 526.4,226.0 529.1,223.2 531.5,220.4 533.6,217.6 535.0,214.8 536.9,212.0 539.0,209.2 540.7,206.4 542.1,203.6 544.3,200.8 546.0,198.0 547.3,195.2 549.0,192.3 551.1,189.5 552.6,186.7 553.1,183.9 553.6,181.1 554.7,178.3 555.5,175.5 556.5,172.7 558.3,169.9 559.8,167.1 561.1,164.3 561.9,161.5 563.0,158.7 564.1,155.9 565.6,153.1 566.7,150.3 568.2,147.5 569.3,144.7 570.6,141.9 572.1,139.0 573.2,136.2 574.4,133.4 575.6,130.6 576.4,127.8 577.1,125.0 578.5,122.2 579.6,119.4 580.7,116.6 581.5,113.8 582.6,111.0 583.4,108.2 584.8,105.4 585.6,102.6 587.3,99.8 587.9,97.0 588.8,94.2 588.7,91.4 588.8,88.6 588.8,85.8 588.9,82.9 588.7,80.1"/>
<polyline points="92.0,365.5 108.0,365.0 124.1,363.8 140.2,362.7 156.2,361.1 172.2,359.9 188.3,358.4 204.4,356.7 220.4,353.4 230.9,351.2 241.5,349.0 252.0,347.2 262.5,345.9 273.1,344.4 283.6,341.9 294.1,340.4 304.7,338.5 315.2,335.7 325.7,333.1 336.2,331.1 346.8,329.5 357.3,327.9 367.8,325.5 378.4,322.6 388.9,320.5 399.4,318.0 410.0,313.9 420.5,309.5 431.0,305.0 441.6,301.4 452.1,296.8 462.6,288.5 473.2,280.2 483.7,272.8 494.2,265.3 504.8,257.2 513.7,251.3 517.3,248.5 520.1,245.6 522.9,242.8 525.6,240.0 527.8,237.2 529.7,234.4 531.8,231.6 534.8,228.8 537.4,226.0 540.1,223.2 542.6,220.4 544.3,217.6 546.2,214.8 547.6,212.0 549.1,209.2 550.4,206.4 552.7,203.6 554.6,200.8 556.7,198.0 558.7,195.2 560.3,192.3 561.9,189.5 563.0,186.7 564.1,183.9 565.1,181.1 565.9,178.3 567.2,175.5 568.1,172.7 568.7,169.9 569.2,167.1 570.7,164.3 571.6,161.5 572.4,158.7 574.0,155.9 575.4,153.1 576.9,150.3 578.8,147.5 579.7,144.7 581.8,141.9 583.2,139.0 584.3,136.2 584.6,133.4 585.4,130.6 587.4,127.8 588.3,125.0 589.1,122.2 590.2,119.4 591.3,116.6 592.5,113.8 593.3,111.0 594.5,108.2 595.1,105.4 596.3,102.6 597.3,99.8 597.0,97.0 597.0,94.2 597.5,91.4 597.8,88.6 598.0,85.8 597.6,82.9 597.5,80.1"/>
<polyline points="92.0,365.5 108.0,365.2 124.1,364.0 140.2,362.8 156.2,361.2 172.2,359.7 188.3,358.2 204.4,355.9 220.4,352.4 230.9,349.8 241.5,347.0 252.0,345.3 262.5,344.1 273.1,342.4 283.6,340.5 294.1,337.7 304.7,335.4 315.2,332.8 325.7,330.2 336.2,328.2 346.8,325.9 357.3,323.2 367.8,320.4 378.4,317.9 388.9,315.0 399.4,313.2 410.0,309.2 420.5,305.0 431.0,300.6 441.6,296.2 452.1,290.2 462.6,281.9 473.2,274.2 483.7,266.0 494.2,258.0 500.7,254.1 506.3,251.3 509.0,248.5 511.1,245.6 513.3,242.8 516.1,240.0 518.6,237.2 521.4,234.4 523.9,231.6 526.5,228.8 528.7,226.0 531.3,223.2 533.5,220.4 535.6,217.6 536.6,214.8 537.9,212.0 539.3,209.2 540.9,206.4 542.9,203.6 544.8,200.8 546.6,198.0 548.2,195.2 550.6,192.3 552.3,189.5 553.5,186.7 554.8,183.9 557.1,181.1 558.2,178.3 559.6,175.5 560.9,172.7 561.6,169.9 562.8,167.1 564.2,164.3 565.3,161.5 567.0,158.7 567.8,155.9 568.9,153.1 569.6,150.3 571.4,147.5 572.7,144.7 574.0,141.9 575.9,139.0 577.9,136.2 579.4,133.4 581.8,130.6 583.1,127.8 584.2,125.0 584.8,122.2 586.4,119.4 587.5,116.6 588.5,113.8 589.1,111.0 589.9,108.2 590.7,105.4 591.7,102.6 592.3,99.8 592.4,97.0 592.3,94.2 592.4,91.4 592.7,88.6 592.8,85.8 593.5,82.9 593.9,80.1"/>
<polyline points="92.0,365.5 108.0,365.2 124.1,364.0 140.2,362.8 156.2,361.3 172.2,359.6 188.3,357.8 204.4,355.9 220.4,352.1 230.9,349.7 241.5,347.3 252.0,345.5 262.5,344.1 273.1,342.5 283.6,340.7 294.1,338.8 304.7,336.9 315.2,334.5 325.7,332.6 336.2,330.6 346.8,328.2 357.3,326.0 367.8,323.6 378.4,321.2 388.9,318.3 399.4,315.8 410.0,311.5 420.5,307.4 431.0,303.0 441.6,299.1 452.1,294.5 462.6,285.6 473.2,277.4 483.7,270.1 494.2,262.1 504.4,254.1 509.3,251.3 512.0,248.5 514.4,245.6 516.4,242.8 518.2,240.0 521.3,237.2 523.1,234.4 525.9,231.6 528.5,228.8 530.8,226.0 533.2,223.2 535.9,220.4 537.7,217.6 539.8,214.8 541.3,212.0 543.4,209.2 545.4,206.4 547.5,203.6 549.6,200.8 551.2,198.0 552.7,195.2 554.9,192.3 556.8,189.5 558.0,186.7 558.8,183.9 559.5,181.1 560.3,178.3 562.0,175.5 563.0,172.7 563.8,169.9 564.4,167.1 565.3,164.3 565.6,161.5 566.9,158.7 568.4,155.9 570.0,153.1 571.1,150.3 572.5,147.5 574.2,144.7 575.8,141.9 576.9,139.0 577.6,136.2 579.2,133.4 580.8,130.6 582.3,127.8 582.9,125.0 583.9,122.2 585.0,119.4 586.3,116.6 587.7,113.8 588.6,111.0 589.7,108.2 590.5,105.4 591.3,102.6 592.7,99.8 592.7,97.0 592.9,94.2 592.9,91.4 593.6,88.6 593.7,85.8 594.4,82.9 594.7,80.1"/>
<polyline points="92.0,365.5 108.0,365.3 124.1,364.2 140.2,363.1 156.2,361.7 172.2,360.0 188.3,358.4 204.4,356.4 220.4,352.5 230.9,350.0 241.5,348.0 252.0,345.6 262.5,343.8 273.1,342.6 283.6,340.5 294.1,339.6 304.7,338.3 315.2,336.0 325.7,334.3 336.2,332.1 346.8,330.2 357.3,327.6 367.8,324.3 378.4,321.5 388.9,319.0 399.4,317.1 410.0,313.5 420.5,309.9 431.0,306.1 441.6,302.0 452.1,297.5 462.6,289.9 473.2,282.2 483.7,274.4 494.2,266.7 504.8,258.8 514.8,251.3 517.4,248.5 519.1,245.6 521.6,242.8 524.7,240.0 527.0,237.2 529.3,234.4 532.2,231.6 534.4,228.8 537.2,226.0 539.8,223.2 541.5,220.4 543.3,217.6 544.5,214.8 546.7,212.0 548.3,209.2 550.2,206.4 552.3,203.6 554.2,200.8 555.2,198.0 557.1,195.2 558.8,192.3 560.5,189.5 561.0,186.7 561.9,183.9 563.2,181.1 564.5,178.3 565.5,175.5 566.6,172.7 567.5,169.9 568.5,167.1 569.8,164.3 569.8,161.5 571.4,158.7 573.0,155.9 575.0,153.1 576.6,150.3 578.6,147.5 580.1,144.7 580.5,141.9 581.7,139.0 583.0,136.2 584.4,133.4 585.2,130.6 586.3,127.8 587.7,125.0 588.9,122.2 590.1,119.4 591.8,116.6 592.5,113.8 593.3,111.0 594.3,108.2 595.2,105.4 596.3,102.6 597.5,99.8 598.0,97.0 598.5,94.2 598.6,91.4 599.2,88.6 599.1,85.8 599.4,82.9 600.2,80.1"/>
<polyline points="92.0,365.5 108.0,365.4 124.1,364.5 140.2,363.4 156.2,362.0 172.2,360.1 188.3,358.3 204.4,355.8 220.4,352.5 230.9,350.3 241.5,348.7 252.0,346.4 262.5,344.7 273.1,343.5 283.6,341.8 294.1,340.1 304.7,338.2 315.2,336.0 325.7,334.0 336.2,331.5 346.8,329.6 357.3,327.6 367.8,325.1 378.4,322.0 388.9,319.5 399.4,316.3 410.0,312.4 420.5,308.6 431.0,305.5 441.6,301.8 452.1,297.7 462.6,290.1 473.2,282.2 483.7,274.9 494.2,267.7 504.8,260.2 515.3,251.5 517.9,248.5 520.2,245.6 523.2,242.8 525.8,240.0 527.8,237.2 529.7,234.4 532.0,231.6 534.2,228.8 536.4,226.0 538.4,223.2 540.6,220.4 542.2,217.6 543.4,214.8 544.7,212.0 546.8,209.2 548.2,206.4 549.9,203.6 551.0,200.8 552.4,198.0 554.0,195.2 555.5,192.3 556.6,189.5 557.3,186.7 558.6,183.9 560.4,181.1 561.3,178.3 562.2,175.5 563.7,172.7 564.9,169.9 566.9,167.1 568.0,164.3 569.4,161.5 570.7,158.7 572.4,155.9 573.5,153.1 574.5,150.3 575.6,147.5 576.4,144.7 577.7,141.9 579.8,139.0 581.3,136.2 582.9,133.4 584.4,130.6 585.2,127.8 586.8,125.0 587.8,122.2 589.0,119.4 589.7,116.6 590.9,113.8 591.9,111.0 593.1,108.2 594.4,105.4 595.7,102.6 596.8,99.8 596.9,97.0 597.0,94.2 597.4,91.4 597.6,88.6 598.1,85.8 598.1,82.9 598.6,80.1"/>
<polyline points="92.0,365.5 108.0,365.4 124.1,364.5 140.2,363.5 156.2,362.3 172.2,360.7 188.3,359.1 204.4,357.0 220.4,353.7 230.9,351.6 241.5,349.5 252.0,347.4 262.5,345.9 273.1,344.4 283.6,343.0 294.1,341.3 304.7,339.3 315.2,337.3 325.7,334.8 336.2,332.4 346.8,330.1 357.3,327.9 367.8,325.4 378.4,322.7 388.9,319.8 399.4,317.3 410.0,313.5 420.5,309.6 431.0,305.8 441.6,301.6 452.1,297.1 462.6,289.9 473.2,282.5 483.7,275.1 494.2,267.2 504.8,259.4 515.2,251.3 518.5,248.5 521.0,245.6 523.2,242.8 525.7,240.0 528.3,237.2 530.9,234.4 533.5,231.6 535.8,228.8 538.5,226.0 541.1,223.2 543.7,220.4 545.6,217.6 547.3,214.8 549.0,212.0 550.9,209.2 552.4,206.4 554.3,203.6 556.2,200.8 557.9,198.0 559.8,195.2 561.5,192.3 563.2,189.5 564.3,186.7 565.4,183.9 566.3,181.1 567.5,178.3 568.6,175.5 569.8,172.7 570.8,169.9 572.1,167.1 573.2,164.3 574.2,161.5 575.6,158.7 577.0,155.9 578.4,153.1 579.9,150.3 581.1,147.5 582.5,144.7 584.0,141.9 585.4,139.0 586.8,136.2 588.6,133.4 590.1,130.6 590.9,127.8 591.9,125.0 592.7,122.2 593.8,119.4 594.6,116.6 595.5,113.8 596.3,111.0 597.1,108.2 598.1,105.4 599.0,102.6 600.0,99.8 600.6,97.0 601.0,94.2 601.5,91.4 601.8,88.6 602.2,85.8 602.5,82.9 602.8,80.1"/>
<polyline points="92.0,365.5 108.0,365.5 124.1,364.6 140.2,363.8 156.2,362.6 172.2,361.0 188.3,359.3 204.4,357.3 220.4,353.9 230.9,351.8 241.5,349.5 252.0,347.3 262.5,345.7 273.1,343.9 283.6,342.2 294.1,340.4 304.7,338.8 315.2,336.5 325.7,334.4 336.2,332.4 346.8,330.0 357.3,327.7 367.8,325.3 378.4,322.6 388.9,320.0 399.4,317.6 410.0,313.7 420.5,309.9 431.0,306.3 441.6,302.3 452.1,298.0 462.6,291.3 473.2,284.7 483.7,278.2 494.2,270.7 504.8,263.1 515.3,255.3 522.8,248.5 525.8,245.6 528.0,242.8 530.7,240.0 533.2,237.2 535.6,234.4 538.1,231.6 540.5,228.8 543.0,226.0 545.7,223.2 548.3,220.4 550.0,217.6 551.7,214.8 553.4,212.0 554.9,209.2 556.4,206.4 558.4,203.6 559.9,200.8 561.6,198.0 563.1,195.2 564.6,192.3 566.1,189.5 567.0,186.7 568.2,183.9 569.1,181.1 569.9,178.3 571.1,175.5 572.4,172.7 573.2,169.9 574.3,167.1 575.5,164.3 576.5,161.5 577.8,158.7 579.1,155.9 580.3,153.1 581.6,150.3 582.7,147.5 584.2,144.7 585.3,141.9 586.9,139.0 588.2,136.2 589.6,133.4 591.1,130.6 592.0,127.8 593.0,125.0 593.9,122.2 594.7,119.4 595.7,116.6 596.8,113.8 597.6,111.0 598.4,108.2 599.2,105.4 600.1,102.6 600.9,99.8 601.8,97.0 602.4,94.2 602.6,91.4 602.9,88.6 603.1,85.8 603.5,82.9 603.7,80.1"/>
<polyline points="92.0,365.5 108.0,365.5 124.1,364.7 140.2,363.8 156.2,362.7 172.2,361.2 188.3,359.7 204.4,357.6 220.4,354.3 230.9,352.2 241.5,350.2 252.0,348.1 262.5,346.3 273.1,344.9 283.6,343.4 294.1,341.6 304.7,339.9 315.2,337.6 325.7,335.1 336.2,332.6 346.8,330.3 357.3,328.1 367.8,325.6 378.4,323.0 388.9,320.6 399.4,318.2 410.0,314.5 420.5,310.8 431.0,307.4 441.6,303.7 452.1,299.6 462.6,293.6 473.2,287.3 483.7,281.3 494.2,274.1 504.8,266.9 515.3,258.5 525.8,248.9 529.5,245.6 531.8,242.8 534.3,240.0 536.9,237.2 539.3,234.4 541.9,231.6 544.4,228.8 547.1,226.0 549.7,223.2 552.2,220.4 554.2,217.6 555.6,214.8 557.5,212.0 559.4,209.2 561.3,206.4 563.3,203.6 565.2,200.8 566.8,198.0 568.7,195.2 570.3,192.3 572.2,189.5 573.3,186.7 574.3,183.9 575.2,181.1 576.3,178.3 577.2,175.5 578.4,172.7 579.7,169.9 580.8,167.1 581.9,164.3 583.1,161.5 584.1,158.7 585.2,155.9 586.2,153.1 587.4,150.3 588.7,147.5 589.9,144.7 591.1,141.9 592.2,139.0 593.3,136.2 594.5,133.4 595.5,130.6 596.5,127.8 597.0,125.0 597.9,122.2 598.6,119.4 599.7,116.6 600.4,113.8 601.1,111.0 601.9,108.2 602.8,105.4 603.6,102.6 604.2,99.8 604.3,97.0 604.7,94.2 604.9,91.4 605.2,88.6 605.5,85.8 605.8,82.9 606.0,80.1"/>
<polyline points="92.0,365.5 108.0,365.5 124.1,364.8 140.2,364.0 156.2,363.0 172.2,361.5 188.3,360.0 204.4,358.1 220.4,354.7 230.9,352.6 241.5,350.4 252.0,348.2 262.5,346.4 273.1,344.7 283.6,343.0 294.1,341.3 304.7,339.5 315.2,337.5 325.7,335.3 336.2,332.9 346.8,330.7 357.3,328.5 367.8,326.1 378.4,323.6 388.9,321.1 399.4,318.4 410.0,314.6 420.5,310.9 431.0,307.4 441.6,303.7 452.1,299.7 462.6,293.9 473.2,288.5 483.7,283.3 494.2,276.5 504.8,269.9 515.3,261.8 525.8,252.3 533.2,245.6 535.7,242.8 538.4,240.0 540.9,237.2 543.5,234.4 546.0,231.6 548.5,228.8 551.0,226.0 553.3,223.2 556.0,220.4 557.9,217.6 559.6,214.8 561.4,212.0 563.3,209.2 565.1,206.4 566.9,203.6 568.9,200.8 570.6,198.0 572.5,195.2 574.3,192.3 575.8,189.5 577.1,186.7 578.1,183.9 579.1,181.1 580.2,178.3 581.3,175.5 582.2,172.7 583.4,169.9 584.6,167.1 585.6,164.3 586.5,161.5 587.4,158.7 588.5,155.9 589.4,153.1 590.4,150.3 591.6,147.5 592.6,144.7 593.9,141.9 594.9,139.0 595.9,136.2 596.9,133.4 597.9,130.6 598.6,127.8 599.5,125.0 600.0,122.2 600.6,119.4 601.2,116.6 601.9,113.8 602.7,111.0 603.1,108.2 603.6,105.4 604.1,102.6 604.6,99.8 604.7,97.0 604.7,94.2 605.0,91.4 604.9,88.6 605.3,85.8 605.2,82.9 605.4,80.1"/>
<polyline points="92.0,365.5 108.0,365.5 124.1,364.9 140.2,364.1 156.2,363.1 172.2,361.5 188.3,359.9 204.4,357.9 220.4,354.5 230.9,352.4 241.5,350.2 252.0,348.1 262.5,346.2 273.1,344.4 283.6,342.7 294.1,340.7 304.7,338.6 315.2,336.5 325.7,334.2 336.2,332.2 346.8,329.9 357.3,327.6 367.8,325.0 378.4,322.6 388.9,320.1 399.4,317.8 410.0,314.2 420.5,310.6 431.0,306.9 441.6,303.3 452.1,299.6 462.6,294.6 473.2,290.0 483.7,285.3 494.2,278.7 504.8,272.1 515.3,263.8 525.8,254.7 536.4,245.7 538.8,242.8 541.1,240.0 543.4,237.2 546.0,234.4 548.8,231.6 551.5,228.8 554.1,226.0 556.7,223.2 559.2,220.4 561.0,217.6 562.5,214.8 564.4,212.0 566.2,209.2 568.1,206.4 569.8,203.6 571.5,200.8 573.5,198.0 575.4,195.2 577.4,192.3 579.2,189.5 580.2,186.7 581.3,183.9 582.4,181.1 583.2,178.3 584.2,175.5 585.3,172.7 586.3,169.9 587.5,167.1 588.3,164.3 589.4,161.5 590.3,158.7 591.0,155.9 592.2,153.1 593.1,150.3 593.9,147.5 594.6,144.7 595.7,141.9 596.4,139.0 597.5,136.2 598.3,133.4 599.2,130.6 599.5,127.8 600.0,125.0 600.5,122.2 601.2,119.4 601.6,116.6 602.0,113.8 602.5,111.0 603.0,108.2 603.1,105.4 603.5,102.6 603.9,99.8 603.8,97.0 603.6,94.2 603.7,91.4 603.9,88.6 604.1,85.8 604.1,82.9 604.0,80.1"/>
<polyline points="92.0,365.5 108.0,365.5 124.1,365.1 140.2,364.5 156.2,363.4 172.2,361.8 188.3,360.2 204.4,358.1 220.4,354.8 230.9,352.5 241.5,350.4 252.0,348.2 262.5,346.7 273.1,345.1 283.6,343.3 294.1,341.5 304.7,339.6 315.2,337.4 325.7,335.2 336.2,333.1 346.8,331.1 357.3,328.6 367.8,326.0 378.4,323.6 388.9,320.9 399.4,318.7 410.0,315.2 420.5,311.5 431.0,307.6 441.6,303.9 452.1,300.3 462.6,296.7 473.2,293.2 483.7,289.4 494.2,283.5 504.8,277.2 515.3,268.7 525.8,259.6 536.4,250.5 543.6,242.8 546.2,240.0 548.6,237.2 551.3,234.4 553.6,231.6 556.2,228.8 558.7,226.0 561.1,223.2 563.5,220.4 565.2,217.6 566.9,214.8 568.6,212.0 570.6,209.2 572.3,206.4 573.9,203.6 575.6,200.8 577.3,198.0 578.9,195.2 580.5,192.3 582.3,189.5 583.2,186.7 584.2,183.9 585.1,181.1 586.0,178.3 586.9,175.5 587.5,172.7 588.5,169.9 589.3,167.1 589.9,164.3 590.9,161.5 591.5,158.7 592.5,155.9 593.2,153.1 594.0,150.3 594.7,147.5 595.4,144.7 596.2,141.9 596.9,139.0 597.7,136.2 598.7,133.4 599.7,130.6 600.2,127.8 600.5,125.0 600.8,122.2 601.0,119.4 601.5,116.6 602.1,113.8 602.5,111.0 603.1,108.2 603.5,105.4 604.1,102.6 604.8,99.8 604.8,97.0 604.8,94.2 604.7,91.4 604.9,88.6 604.9,85.8 604.9,82.9 605.2,80.1"/>
<polyline points="100.0,366.0 165.0,364.5 225.0,357.0 250.0,352.0 300.0,345.0 350.0,333.0 400.0,320.5 430.0,310.0 450.0,304.0 484.0,291.0 506.0,278.0 538.0,250.0 560.0,225.0 575.0,200.0 590.0,170.0 598.0,140.0 604.0,110.0 606.0,80.0"/>
<polyline points="105.0,366.0 165.0,365.5 225.0,358.0 250.0,353.0 300.0,344.0 350.0,332.0 400.0,320.0 430.0,308.0 470.0,293.0 500.0,276.0 528.0,250.0 555.0,222.0 572.0,195.0 586.0,165.0 596.0,135.0 603.0,105.0 605.0,80.0"/>
</g>
<g fill="none" stroke="#000" stroke-width="1" shape-rendering="crispEdges">
<rect x="65.5" y="65.5" width="550" height="310"/>
<path d="M128.5 375V370M128.5 65V71M181.5 375V365M181.5 65V76M234.5 375V370M234.5 65V71M287.5 375V365M287.5 65V76M340.5 375V370M340.5 65V71M393.5 375V365M393.5 65V76M446.5 375V370M446.5 65V71M499.5 375V365M499.5 65V76M552.5 375V370M552.5 65V71M605.5 375V365M605.5 65V76M65 75.5H76M615 75.5H605M65 104.5H71M615 104.5H610M65 133.5H71M615 133.5H610M65 162.5H71M615 162.5H610M65 191.5H71M615 191.5H610M65 220.5H76M615 220.5H605M65 249.5H71M615 249.5H610M65 278.5H71M615 278.5H610M65 307.5H71M615 307.5H610M65 336.5H71M615 336.5H610"/>
</g>
<defs><filter id="nf" x="0" y="0" width="680" height="440" filterUnits="userSpaceOnUse"><feOffset dx="0" dy="0"/></filter></defs>
<g filter="url(#nf)">
<text transform="translate(358,30) scale(1,0.87)" font-size="16" text-anchor="middle">T1021s2-D1</text>
<text transform="translate(334,420) scale(1,0.87)" font-size="16" text-anchor="middle">Percent of Residues (CA)</text>
<text transform="translate(30,233) rotate(-90) scale(1,0.87)" font-size="16" text-anchor="middle">Distance Cutoff, A</text>
<g font-size="16" text-anchor="middle">
<text transform="translate(65,395) scale(1,0.87)">0</text>
<text transform="translate(180,395) scale(1,0.87)">20</text>
<text transform="translate(286,395) scale(1,0.87)">40</text>
<text transform="translate(392,395) scale(1,0.87)">60</text>
<text transform="translate(498,395) scale(1,0.87)">80</text>
<text transform="translate(609,395) scale(1,0.87)">100</text>
<text transform="translate(55,376) rotate(-90) scale(1,0.87)">0</text>
<text transform="translate(55,221) rotate(-90) scale(1,0.87)">5</text>
<text transform="translate(55,66) rotate(-90) scale(1,0.87)">10</text>
</g>
</g>
</svg>
</body></html>
